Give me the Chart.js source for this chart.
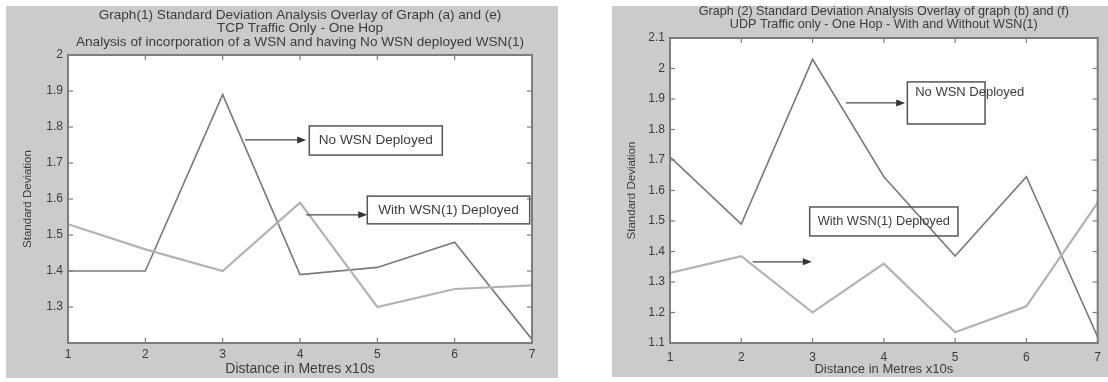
<!DOCTYPE html>
<html>
<head>
<meta charset="utf-8">
<script src="https://cdn.jsdelivr.net/npm/chart.js@4/dist/chart.umd.min.js"></script>
<style>
    body { margin: 0; background: #fff; width: 1108px; height: 382px; position: relative; overflow: hidden; }
    .fig { position: absolute; background: #cbcbcb; }
    #fig1 { left: 6px; top: 6px; width: 552px; height: 372px; }
    #fig2 { left: 612px; top: 6px; width: 496px; height: 371px; }
</style>
</head>
<body>
<div class="fig" id="fig1"><canvas id="chart1"></canvas></div>
<div class="fig" id="fig2"><canvas id="chart2"></canvas></div>
<script>
// Data
const distance = [1, 2, 3, 4, 5, 6, 7];

// Graph (1) TCP
const tcpNoWsn   = [1.40, 1.40, 1.89, 1.39, 1.41, 1.48, 1.21];
const tcpWithWsn = [1.53, 1.46, 1.40, 1.59, 1.30, 1.35, 1.36];

// Graph (2) UDP
const udpNoWsn   = [1.71, 1.49, 2.03, 1.645, 1.385, 1.645, 1.12];
const udpWithWsn = [1.33, 1.385, 1.20, 1.36, 1.135, 1.22, 1.56];

const tcpTitle = [
    'Graph(1) Standard Deviation Analysis Overlay of Graph (a) and (e)',
    'TCP Traffic Only - One Hop',
    'Analysis of incorporation of a WSN and having No WSN deployed WSN(1)'
];
const udpTitle = [
    'Graph (2) Standard Deviation Analysis Overlay of graph (b) and (f)',
    'UDP Traffic only - One Hop - With and Without WSN(1)'
];

const FONT = '"Liberation Sans", Arial, Helvetica, sans-serif';
const TEXT = '#3c3c3c';
const DARK_LINE = '#7a7a7a';
const LIGHT_LINE = '#b2b2b2';
const FRAME = '#7c7c7c';

const pts = arr => distance.map((d, i) => ({ x: d, y: arr[i] }));

// MATLAB-ish frame, inward ticks, titles and text-box annotations
const matlabFrame = {
    id: 'matlabFrame',
    beforeDatasetsDraw(chart) {
        const { ctx, chartArea: a } = chart;
        ctx.save();
        ctx.fillStyle = '#fff';
        ctx.fillRect(a.left, a.top, a.width, a.height);
        ctx.restore();
    },
    afterDatasetsDraw(chart, args, opts) {
        const { ctx, chartArea: a, scales: { x, y } } = chart;
        ctx.save();
        ctx.strokeStyle = FRAME;
        ctx.lineWidth = 1.2;
        const seg = (x0, y0, x1, y1) => { ctx.beginPath(); ctx.moveTo(x0, y0); ctx.lineTo(x1, y1); ctx.stroke(); };
        x.ticks.forEach(t => {
            const px = x.getPixelForValue(t.value);
            seg(px, a.bottom, px, a.bottom - 5);
            seg(px, a.top, px, a.top + 5);
        });
        y.ticks.forEach(t => {
            const py = y.getPixelForValue(t.value);
            seg(a.left, py, a.left + 5, py);
            seg(a.right, py, a.right - 5, py);
        });
        ctx.lineWidth = 2;
        ctx.strokeRect(a.left, a.top, a.width, a.height);

        // titles
        ctx.fillStyle = TEXT;
        ctx.textAlign = 'center';
        ctx.textBaseline = 'middle';
        ctx.font = opts.titleSize + 'px ' + FONT;
        const cx = (a.left + a.right) / 2;
        (opts.title || []).forEach((line, i) => ctx.fillText(line, cx, opts.titleTop + i * opts.titleStep));

        // annotations (positions in data units)
        (opts.notes || []).forEach(n => {
            const bx0 = x.getPixelForValue(n.box[0]), bx1 = x.getPixelForValue(n.box[1]);
            const by0 = y.getPixelForValue(n.box[2]), by1 = y.getPixelForValue(n.box[3]);
            ctx.strokeStyle = '#555';
            ctx.lineWidth = 1.5;
            ctx.strokeRect(bx0, by0, bx1 - bx0, by1 - by0);
            ctx.font = n.size + 'px ' + FONT;
            ctx.fillStyle = TEXT;
            if (n.textAt) {
                ctx.textAlign = 'left';
                ctx.fillText(n.text, x.getPixelForValue(n.textAt[0]), y.getPixelForValue(n.textAt[1]));
            } else {
                ctx.textAlign = 'center';
                ctx.fillText(n.text, (bx0 + bx1) / 2, (by0 + by1) / 2);
            }
            const ax0 = x.getPixelForValue(n.arrow[0]), ax1 = x.getPixelForValue(n.arrow[1]);
            const ay = y.getPixelForValue(n.arrow[2]);
            ctx.strokeStyle = '#444';
            ctx.lineWidth = 1.3;
            seg(ax0, ay, ax1 - 6, ay);
            ctx.fillStyle = '#333';
            ctx.beginPath();
            ctx.moveTo(ax1, ay);
            ctx.lineTo(ax1 - 9, ay - 3.5);
            ctx.lineTo(ax1 - 9, ay + 3.5);
            ctx.closePath();
            ctx.fill();
        });
        ctx.restore();
    }
};

function makeChart(canvasId, noWsn, withWsn, cfg) {
    const ctx = document.getElementById(canvasId).getContext('2d');
    return new Chart(ctx, {
        type: 'line',
        data: {
            datasets: [
                { label: 'With WSN(1) Deployed', data: pts(withWsn), borderColor: LIGHT_LINE, borderWidth: 2.2, pointRadius: 0, tension: 0, fill: false },
                { label: 'No WSN Deployed', data: pts(noWsn), borderColor: DARK_LINE, borderWidth: 1.6, pointRadius: 0, tension: 0, fill: false }
            ]
        },
        options: {
            responsive: true,
            maintainAspectRatio: false,
            animation: false,
            layout: { padding: { top: cfg.padTop, right: cfg.padRight, left: 0, bottom: 0 } },
            plugins: {
                legend: { display: false },
                tooltip: { enabled: false },
                matlabFrame: { title: cfg.title, titleTop: cfg.titleTop, titleStep: cfg.titleStep, titleSize: cfg.titleSize, notes: cfg.notes }
            },
            scales: {
                x: {
                    type: 'linear', min: 1, max: 7,
                    grid: { display: false, drawTicks: false },
                    border: { display: false },
                    ticks: { stepSize: 1, padding: cfg.xTickPad, color: TEXT, font: { family: FONT, size: 12 } },
                    title: { display: true, text: 'Distance in Metres x10s', color: TEXT, font: { family: FONT, size: cfg.xTitleSize }, padding: { top: 0, bottom: 0 } },
                    afterFit: s => { s.height = cfg.xHeight; }
                },
                y: {
                    min: cfg.yMin, max: cfg.yMax,
                    grid: { display: false, drawTicks: false },
                    border: { display: false },
                    ticks: {
                        stepSize: 0.1, padding: 5, color: TEXT, font: { family: FONT, size: 12 },
                        callback: v => (cfg.hideMin && Math.abs(v - cfg.yMin) < 1e-6) ? '' : String(+v.toFixed(1))
                    },
                    title: { display: true, text: 'Standard Deviation', color: TEXT, font: { family: FONT, size: 11.5 }, padding: { top: cfg.yTitlePad, bottom: 0 } },
                    afterFit: s => { s.width = cfg.yWidth; }
                }
            }
        },
        plugins: [matlabFrame]
    });
}

makeChart('chart1', tcpNoWsn, tcpWithWsn, {
    yMin: 1.2, yMax: 2, hideMin: true,
    padTop: 49, padRight: 26, yWidth: 62, xHeight: 35, xTickPad: 4, yTitlePad: 15, xTitleSize: 14,
    title: tcpTitle, titleTop: 9, titleStep: 13.5, titleSize: 13.6,
    notes: [
        { text: 'No WSN Deployed', size: 13.6, box: [4.12, 5.84, 1.803, 1.722], arrow: [3.29, 4.08, 1.764] },
        { text: 'With WSN(1) Deployed', size: 13.6, box: [4.87, 6.97, 1.608, 1.531], arrow: [4.08, 4.87, 1.556] }
    ]
});

makeChart('chart2', udpNoWsn, udpWithWsn, {
    yMin: 1.1, yMax: 2.1, hideMin: false,
    padTop: 32, padRight: 9, yWidth: 58, xHeight: 34, xTickPad: 7, yTitlePad: 13, xTitleSize: 13,
    title: udpTitle, titleTop: 6, titleStep: 12.5, titleSize: 12.6,
    notes: [
        { text: 'No WSN Deployed', size: 13, box: [4.33, 5.42, 1.956, 1.818], textAt: [4.44, 1.92], arrow: [3.47, 4.30, 1.887] },
        { text: 'With WSN(1) Deployed', size: 12.8, box: [2.96, 5.04, 1.546, 1.451], arrow: [2.16, 2.99, 1.366] }
    ]
});
</script>
</body>
</html>
